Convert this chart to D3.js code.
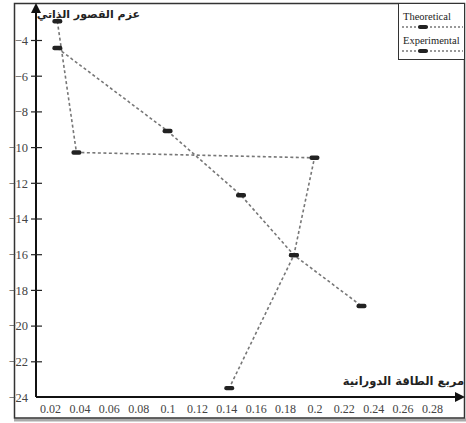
<!DOCTYPE html>
<html><head><meta charset="utf-8">
<script src="https://cdn.jsdelivr.net/npm/d3@7"></script>
<style>body{margin:0;background:#fff} .serif{font-family:"Liberation Serif","Times New Roman",serif}</style>
</head><body>
<svg id="c" width="466" height="423"></svg>
<script>
const xTicks = [0.02,0.04,0.06,0.08,0.1,0.12,0.14,0.16,0.18,0.2,0.22,0.24,0.26,0.28];
const xTickLabels = ["0.02","0.04","0.06","0.08","0.1","0.12","0.14","0.16","0.18","0.2","0.22","0.24","0.26","0.28"];
const yTicks = [-4,-6,-8,-10,-12,-14,-16,-18,-20,-22,-24];
const seriesNames = ["Theoretical","Experimental"];
const theoX = [0.025,0.1,0.15,0.186,0.232];
const theoY = [-4.45,-9.1,-12.7,-16.05,-18.9];
const expX = [0.025,0.038,0.2,0.186,0.142];
const expY = [-2.95,-10.3,-10.6,-16.05,-23.5];
const xTitle = "مربع الطاقة الدورانية";
const yTitle = "عزم القصور الذاتي";

const svg = d3.select("#c");
const x = d3.scaleLinear().domain([0.02,0.28]).range([50,432]);
const y = d3.scaleLinear().domain([-24,-4]).range([397,40]);
const x0 = 36, y0 = 397;

// outer frame
svg.append("line").attr("x1",14).attr("x2",466).attr("y1",420).attr("y2",420).attr("stroke","#aaa").attr("stroke-width",3);
svg.append("rect").attr("x",14.5).attr("y",3.5).attr("width",450).attr("height",414.5)
  .attr("fill","none").attr("stroke","#333").attr("stroke-width",1.5);

// axes lines with arrows
svg.append("line").attr("x1",x0).attr("x2",x0).attr("y1",y0).attr("y2",10).attr("stroke","#111").attr("stroke-width",2);
svg.append("path").attr("d",`M${x0},3 L${x0-5},13 L${x0+5},13 Z`).attr("fill","#111");
svg.append("line").attr("x1",x0).attr("x2",456).attr("y1",y0).attr("y2",y0).attr("stroke","#111").attr("stroke-width",2);
svg.append("path").attr("d",`M465,${y0} L455,${y0-5} L455,${y0+5} Z`).attr("fill","#111");

// y axis ticks
const yAxis = d3.axisLeft(y).tickValues(yTicks).tickSize(0).tickPadding(0).tickFormat(d3.format("d"));
const gy = svg.append("g").attr("transform",`translate(${x0},0)`).call(yAxis);
gy.select(".domain").remove();
gy.selectAll(".tick text").attr("x",-8).attr("dy","0.35em").attr("class","serif")
  .style("font-family",'"Liberation Serif","Times New Roman",serif').style("font-size","12.5px").attr("fill","#444");
gy.selectAll(".tick").filter(d=>d!==-24).append("line").attr("x1",-5).attr("x2",6).attr("stroke","#222").attr("stroke-width",1.2);

// x axis labels
const xAxis = d3.axisBottom(x).tickValues(xTicks).tickSize(0).tickPadding(0).tickFormat((d,i)=>xTickLabels[i]);
const gx = svg.append("g").attr("transform",`translate(0,${y0})`).call(xAxis);
gx.select(".domain").remove();
gx.selectAll(".tick text").attr("y",7)
  .style("font-family",'"Liberation Serif","Times New Roman",serif').style("font-size","12px").attr("fill","#444");

// titles
svg.append("text").attr("x",140).attr("y",18).attr("text-anchor","end")
  .style("font-family",'"DejaVu Sans","Noto Sans",sans-serif').attr("font-weight","bold").attr("font-size",11).attr("fill","#222").text(yTitle);
svg.append("text").attr("x",464).attr("y",385).attr("text-anchor","end")
  .style("font-family",'"DejaVu Sans","Noto Sans",sans-serif').attr("font-weight","bold").attr("font-size",11.5).attr("fill","#222").text(xTitle);

// series
const series = [
  {name:seriesNames[0], pts: theoX.map((v,i)=>[v,theoY[i]])},
  {name:seriesNames[1], pts: expX.map((v,i)=>[v,expY[i]])}
];
const line = d3.line().x(d=>x(d[0])).y(d=>y(d[1]));
series.forEach(s=>{
  svg.append("path").attr("d",line(s.pts)).attr("fill","none").attr("stroke","#777")
    .attr("stroke-width",1.6).attr("stroke-dasharray","3,2.5");
});
series.forEach(s=>{
  svg.selectAll(null).data(s.pts).enter().append("rect")
    .attr("x",d=>x(d[0])-5).attr("y",d=>y(d[1])-2.2).attr("width",10).attr("height",4.4)
    .attr("rx",2).attr("fill","#222");
});

// legend
const lg = svg.append("g");
lg.append("rect").attr("x",398.5).attr("y",3.5).attr("width",66).attr("height",56).attr("fill","#fff").attr("stroke","#333").attr("stroke-width",1);
seriesNames.forEach((n,i)=>{
  const yy = 20 + i*24;
  lg.append("text").attr("x",403).attr("y",yy)
    .style("font-family",'"Liberation Serif","Times New Roman",serif')
    .style("font-size","10.5px").attr("fill","#222").text(n);
  lg.append("line").attr("x1",402).attr("x2",463).attr("y1",yy+7).attr("y2",yy+7).attr("stroke","#777")
    .attr("stroke-width",1.3).attr("stroke-dasharray","2,2");
  lg.append("rect").attr("x",418).attr("y",yy+5).attr("width",10).attr("height",4).attr("rx",2).attr("fill","#222");
});
</script>
</body></html>
